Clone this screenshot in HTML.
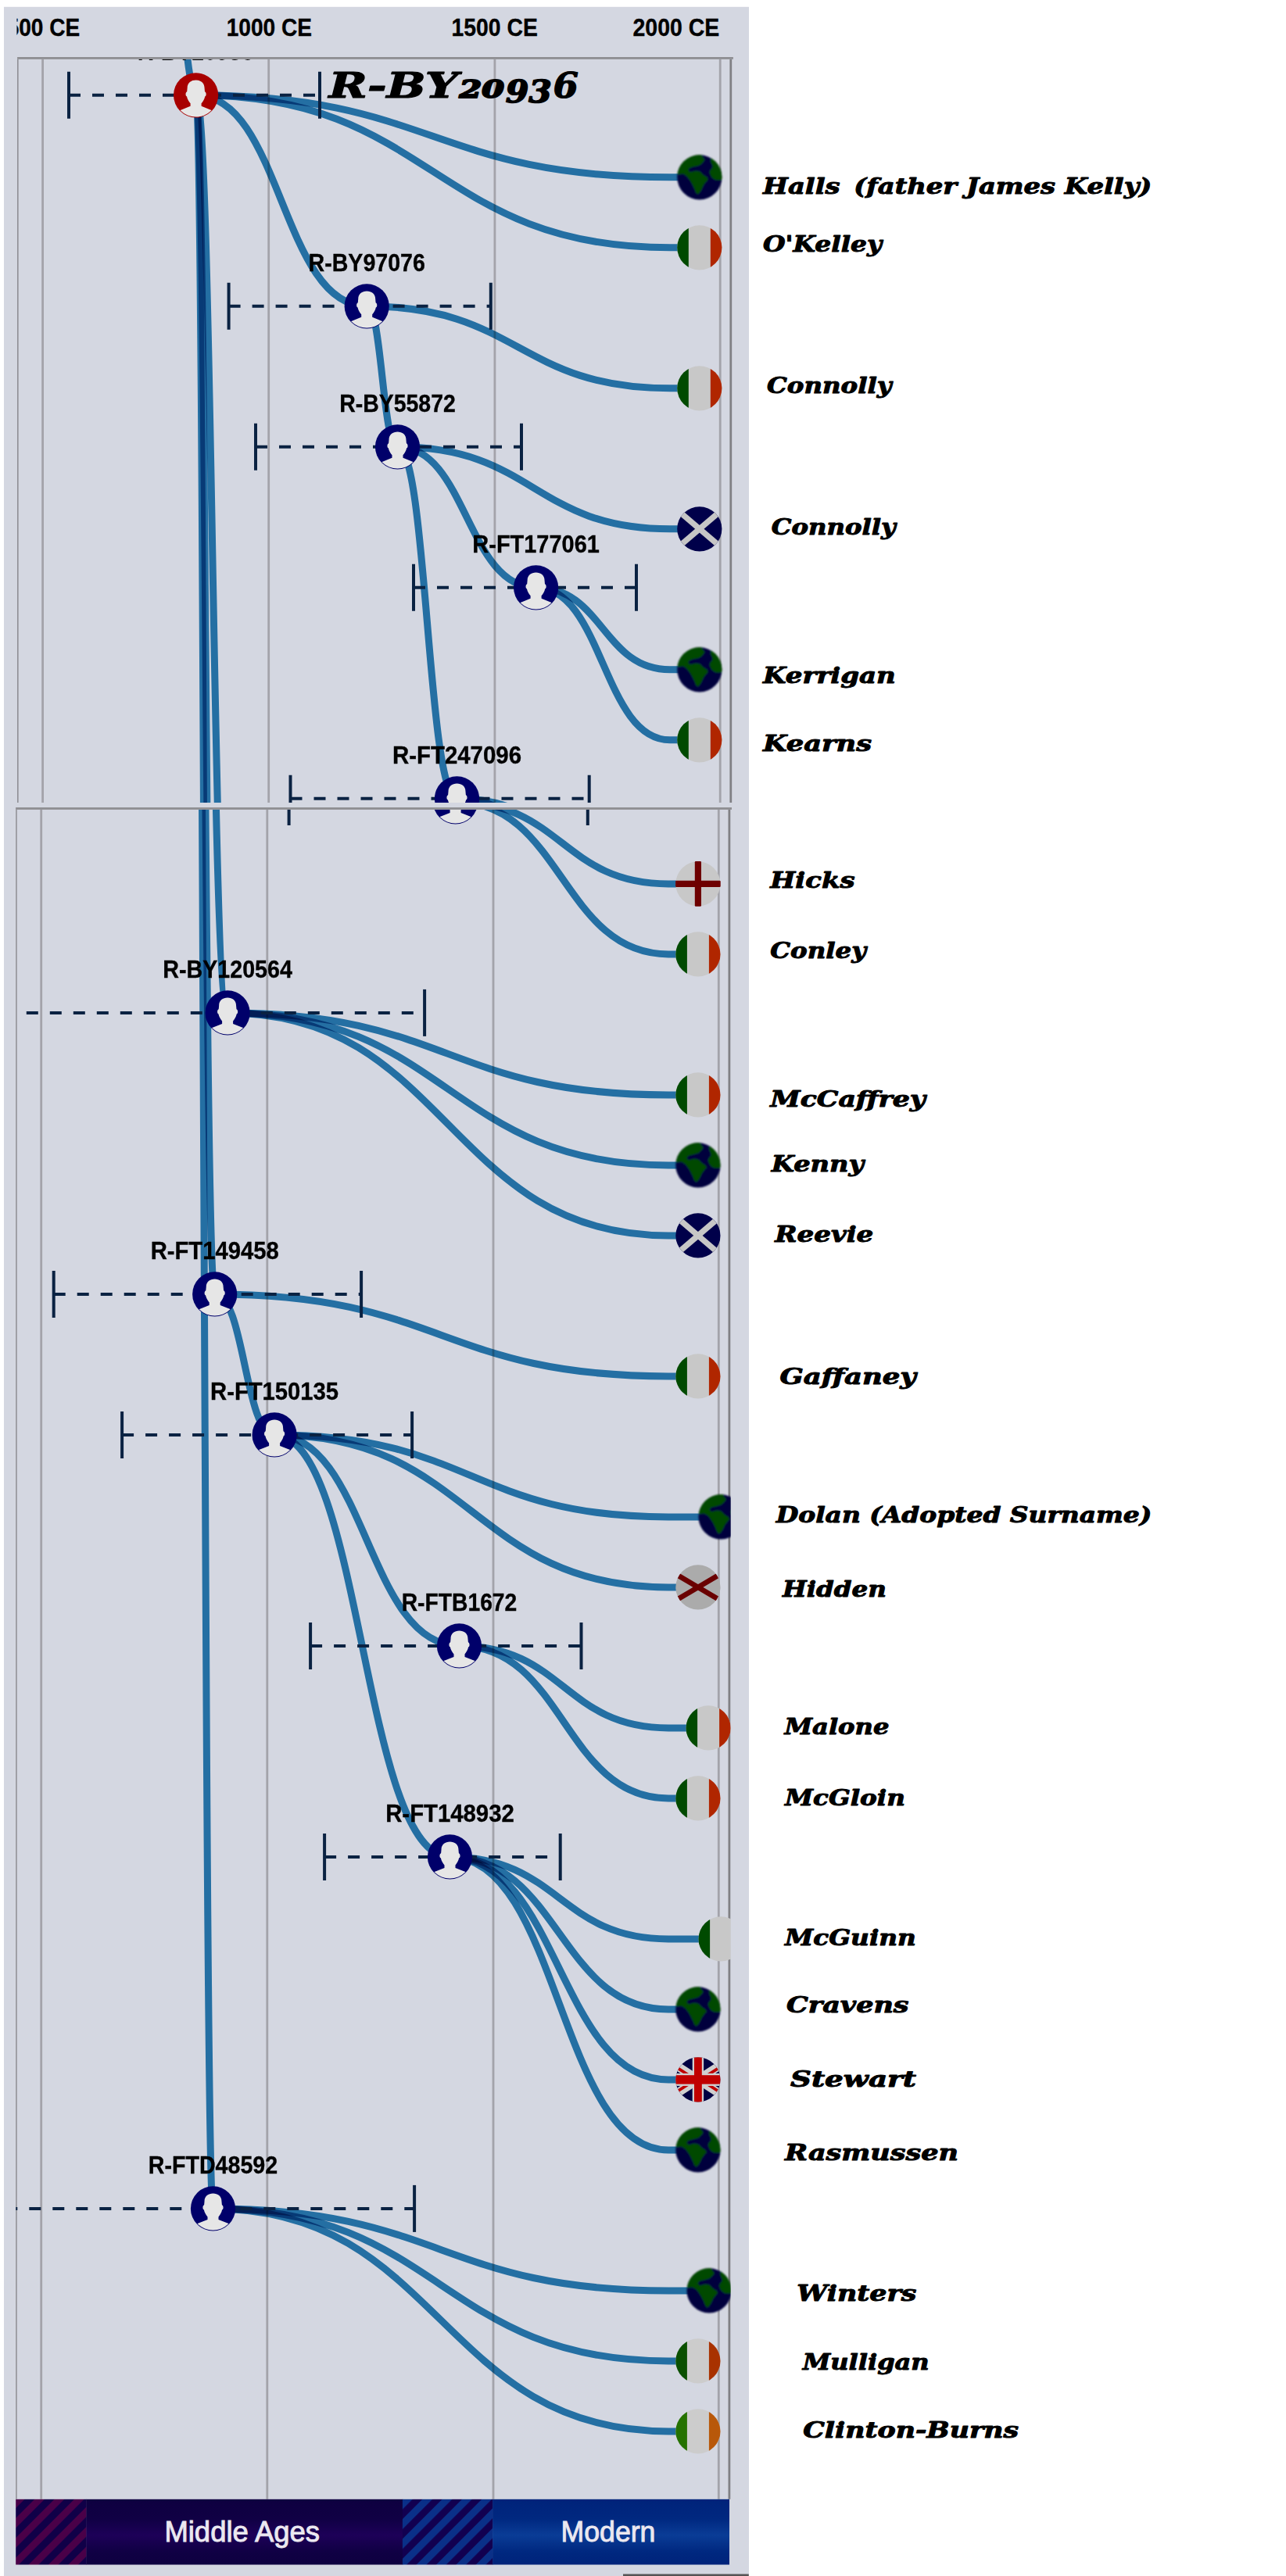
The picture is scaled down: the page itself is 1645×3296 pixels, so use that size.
<!DOCTYPE html>
<html lang="en"><head><meta charset="utf-8"><title>R-BY20936 Time Tree</title>
<style>
html,body{margin:0;padding:0;background:#fff}
body{width:1645px;height:3296px;overflow:hidden;position:relative}
svg{position:absolute;left:0;top:0;display:block}
.m{mix-blend-mode:multiply}
.cal{font-family:"DejaVu Serif","Liberation Serif",serif;font-weight:700;font-style:italic}
.ui{font-family:"Liberation Sans",sans-serif}
</style></head><body>
<svg width="1645" height="3296" viewBox="0 0 1645 3296">
<defs>
<clipPath id="cr"><circle r="28.6"/></clipPath>
<clipPath id="cin"><circle r="27.7"/></clipPath>
<clipPath id="ctop"><rect x="22.1" y="75.8" width="914.5" height="951.2"/></clipPath>
<clipPath id="cbot"><rect x="22.1" y="1031.8" width="914.5" height="2161.9"/></clipPath>
<clipPath id="chdr"><rect x="21.5" y="10" width="936" height="60"/></clipPath>
<filter id="bl" x="-10%" y="-10%" width="120%" height="120%"><feGaussianBlur stdDeviation="1"/></filter>
<linearGradient id="gma" x1="0" y1="0" x2="0" y2="1"><stop offset="0" stop-color="#0e0040"/><stop offset="0.3" stop-color="#100044"/><stop offset="0.55" stop-color="#1d0058"/><stop offset="0.8" stop-color="#100044"/><stop offset="1" stop-color="#0e0040"/></linearGradient>
<linearGradient id="gmo" x1="0" y1="0" x2="0" y2="1"><stop offset="0" stop-color="#00237a"/><stop offset="0.3" stop-color="#002880"/><stop offset="0.55" stop-color="#0a3c96"/><stop offset="0.8" stop-color="#002880"/><stop offset="1" stop-color="#00237a"/></linearGradient>
<pattern id="hp" patternUnits="userSpaceOnUse" width="17.93" height="8" patternTransform="translate(18.9,3197.8) rotate(45)"><rect width="17.93" height="8" fill="#100048"/><rect width="8.9" height="8" fill="#4a0048"/></pattern>
<pattern id="hb" patternUnits="userSpaceOnUse" width="17.93" height="8" patternTransform="translate(514.9,3197.8) rotate(45)"><rect width="17.93" height="8" fill="#120050"/><rect width="9.1" height="8" fill="#0a3088"/></pattern>
</defs>
<rect x="5" y="8.8" width="953" height="3287.2" fill="#d4d7e1"/>

<g class="ui" font-weight="700" font-size="31.5" fill="#000" stroke="#000" stroke-width="0.35" clip-path="url(#chdr)">
<text x="8.7" y="45.9" textLength="93.5" lengthAdjust="spacingAndGlyphs">500 CE</text>
<text x="289.7" y="45.9" textLength="109.3" lengthAdjust="spacingAndGlyphs">1000 CE</text>
<text x="577.5" y="45.9" textLength="110.3" lengthAdjust="spacingAndGlyphs">1500 CE</text>
<text x="809.5" y="45.9" textLength="110.8" lengthAdjust="spacingAndGlyphs">2000 CE</text>
</g>
<g clip-path="url(#ctop)">
<rect x="0" y="70.8" width="970" height="961.2" fill="#d4d7e1"/>
<rect x="53.2" y="70.8" width="2.8" height="961.2" fill="#a3a3aa"/>
<rect x="342.3" y="70.8" width="2.8" height="961.2" fill="#a3a3aa"/>
<rect x="631.5" y="70.8" width="2.8" height="961.2" fill="#a3a3aa"/>
<rect x="919.8" y="70.8" width="2.8" height="961.2" fill="#a3a3aa"/>
<rect x="22.1" y="70.8" width="1.4" height="961.2" fill="#808084"/>
<rect x="933.4" y="70.8" width="2.9" height="961.2" fill="#808084"/>
<g fill="none" stroke="#2b84b9" stroke-width="9">
<path class="m" d="M238.5,60C240,85 244,100 246,118"/>
<path class="m" d="M250.6,121.8C359.9,121.8 359.9,391.8 469.2,391.8"/>
<path class="m" d="M250.6,121.8C271.8,121.8 271.8,1291.8 293.0,1291.8"/>
<path class="m" d="M250.6,121.8C263.6,121.8 263.6,1651.8 276.6,1651.8"/>
<path class="m" d="M250.6,121.8C262.5,121.8 262.5,2821.8 274.4,2821.8"/>
<path class="m" d="M469.2,391.8C488.9,391.8 488.9,571.8 508.5,571.8"/>
<path class="m" d="M508.5,571.8C597.0,571.8 597.0,751.8 685.6,751.8"/>
<path class="m" d="M508.5,571.8C546.5,571.8 546.5,1021.8 584.5,1021.8"/>
<path class="m" d="M250.6,121.8C553.8,121.8 553.8,226.8 857.0,226.8H884.8"/>
<path class="m" d="M250.6,121.8C553.8,121.8 553.8,316.8 857.0,316.8H884.8"/>
<path class="m" d="M469.2,391.8C663.1,391.8 663.1,496.8 857.0,496.8H884.8"/>
<path class="m" d="M508.5,571.8C682.8,571.8 682.8,676.8 857.0,676.8H884.8"/>
<path class="m" d="M685.6,751.8C771.3,751.8 771.3,856.8 857.0,856.8H884.8"/>
<path class="m" d="M685.6,751.8C771.3,751.8 771.3,946.8 857.0,946.8H884.8"/>
<path class="m" d="M584.5,1021.8C720.8,1021.8 720.8,1126.8 857.0,1126.8H884.8"/>
<path class="m" d="M584.5,1021.8C720.8,1021.8 720.8,1216.8 857.0,1216.8H884.8"/>
</g>
<g stroke="#0a2242" stroke-width="4" fill="none">
<path d="M88,91.8V151.8M409,91.8V151.8"/>
<path d="M88,121.8H409" stroke-dasharray="15 15"/>
<path d="M292.6,361.8V421.8M627.8,361.8V421.8"/>
<path d="M292.6,391.8H627.8" stroke-dasharray="15 15"/>
<path d="M327,541.8V601.8M667,541.8V601.8"/>
<path d="M327,571.8H667" stroke-dasharray="15 15"/>
<path d="M529,721.8V781.8M814,721.8V781.8"/>
<path d="M529,751.8H814" stroke-dasharray="15 15"/>
<path d="M371.5,991.8V1051.8M753.7,991.8V1051.8"/>
<path d="M371.5,1021.8H753.7" stroke-dasharray="15 15"/>
</g>
<g transform="translate(250.6,121.8)"><circle r="28.6" fill="#a80000"/><path d="M-21,19.6L-7,14L-7,10.5C-9,8 -11,5 -11.6,1.6C-13.6,1 -13.6,-4 -11.4,-4.6L-11,-9C-11,-16 -6,-19.3 0,-19.3C6,-19.3 11,-16 11,-9L11.4,-4.6C13.6,-4 13.6,1 11.6,1.6C11,5 9,8 7,10.5L7,14L21,19.6L21,30L-21,30Z" fill="#e6e6e6" clip-path="url(#cin)"/></g>
<g transform="translate(469.2,391.8)"><circle r="28.6" fill="#00006a"/><path d="M-21,19.6L-7,14L-7,10.5C-9,8 -11,5 -11.6,1.6C-13.6,1 -13.6,-4 -11.4,-4.6L-11,-9C-11,-16 -6,-19.3 0,-19.3C6,-19.3 11,-16 11,-9L11.4,-4.6C13.6,-4 13.6,1 11.6,1.6C11,5 9,8 7,10.5L7,14L21,19.6L21,30L-21,30Z" fill="#e6e6e6" clip-path="url(#cin)"/></g>
<g transform="translate(508.5,571.8)"><circle r="28.6" fill="#00006a"/><path d="M-21,19.6L-7,14L-7,10.5C-9,8 -11,5 -11.6,1.6C-13.6,1 -13.6,-4 -11.4,-4.6L-11,-9C-11,-16 -6,-19.3 0,-19.3C6,-19.3 11,-16 11,-9L11.4,-4.6C13.6,-4 13.6,1 11.6,1.6C11,5 9,8 7,10.5L7,14L21,19.6L21,30L-21,30Z" fill="#e6e6e6" clip-path="url(#cin)"/></g>
<g transform="translate(685.6,751.8)"><circle r="28.6" fill="#00006a"/><path d="M-21,19.6L-7,14L-7,10.5C-9,8 -11,5 -11.6,1.6C-13.6,1 -13.6,-4 -11.4,-4.6L-11,-9C-11,-16 -6,-19.3 0,-19.3C6,-19.3 11,-16 11,-9L11.4,-4.6C13.6,-4 13.6,1 11.6,1.6C11,5 9,8 7,10.5L7,14L21,19.6L21,30L-21,30Z" fill="#e6e6e6" clip-path="url(#cin)"/></g>
<g transform="translate(584.5,1021.8)"><circle r="28.6" fill="#00006a"/><path d="M-21,19.6L-7,14L-7,10.5C-9,8 -11,5 -11.6,1.6C-13.6,1 -13.6,-4 -11.4,-4.6L-11,-9C-11,-16 -6,-19.3 0,-19.3C6,-19.3 11,-16 11,-9L11.4,-4.6C13.6,-4 13.6,1 11.6,1.6C11,5 9,8 7,10.5L7,14L21,19.6L21,30L-21,30Z" fill="#e6e6e6" clip-path="url(#cin)"/></g>
<g transform="translate(894.8,226.8)"><g filter="url(#bl)"><g clip-path="url(#cr)"><rect x="-30" y="-30" width="60" height="60" fill="#00003e"/><path d="M-29.6,-4.9C-31.4,-7.2 -33.6,-13.8 -32.4,-18.4C-31.1,-23.0 -27.7,-30.0 -22.1,-32.4C-16.5,-34.7 -3.1,-33.4 1.2,-32.4C5.5,-31.4 2.7,-27.9 3.5,-26.3C4.4,-24.7 6.3,-23.8 6.3,-22.6C6.4,-21.3 5.0,-20.0 4.0,-18.8C3.0,-17.7 1.8,-16.4 0.3,-15.6C-1.3,-14.8 -3.4,-14.5 -5.3,-14.0C-7.3,-13.5 -9.9,-13.0 -11.4,-12.3C-12.8,-11.6 -13.8,-10.8 -14.1,-10.0C-14.4,-9.2 -13.9,-7.9 -13.2,-7.4C-12.6,-6.8 -11.3,-6.7 -10.0,-6.8C-8.7,-6.9 -7.0,-8.1 -5.3,-8.1C-3.6,-8.2 -1.4,-8.0 0.3,-7.2C2.0,-6.3 3.4,-4.2 4.9,-3.0C6.5,-1.7 8.7,-0.7 9.6,0.3C10.5,1.3 10.9,2.0 10.5,3.1C10.2,4.2 8.5,5.6 7.6,6.8C6.6,8.1 5.7,9.2 4.9,10.5C4.2,11.9 3.8,13.3 3.1,14.7C2.3,16.1 1.4,17.8 0.5,18.9C-0.4,20.0 -1.5,21.4 -2.3,21.4C-3.2,21.4 -4.0,20.3 -4.8,18.9C-5.6,17.6 -6.3,15.2 -7.2,13.3C-8.1,11.5 -9.1,9.5 -10.0,7.7C-10.9,6.0 -11.7,4.6 -12.8,3.1C-13.9,1.6 -15.1,-0.2 -16.5,-1.4C-17.9,-2.6 -19.0,-3.6 -21.2,-4.2C-23.4,-4.8 -27.7,-2.5 -29.6,-4.9ZM14.5,-24.0C14.9,-25.3 14.6,-28.0 17.1,-27.7C19.5,-27.4 26.7,-25.5 29.2,-22.1C31.7,-18.7 31.9,-11.2 32.0,-7.2C32.1,-3.1 30.9,0.3 29.7,2.1C28.4,4.0 26.2,3.5 24.5,3.6C22.9,3.8 21.3,3.6 19.9,3.1C18.5,2.6 17.2,1.6 16.1,0.5C15.1,-0.6 14.3,-2.2 13.8,-3.5C13.3,-4.7 12.8,-6.1 13.0,-7.2C13.1,-8.3 14.1,-9.0 14.7,-10.0C15.3,-10.9 16.4,-11.9 16.6,-13.0C16.8,-14.1 16.1,-15.4 15.8,-16.5C15.4,-17.7 14.6,-18.5 14.4,-19.8C14.2,-21.0 14.0,-22.7 14.5,-24.0Z" fill="#004a00"/></g></g></g>
<g transform="translate(894.8,316.8)"><g clip-path="url(#cr)"><rect x="-30" y="-30" width="60" height="60" fill="#c8c8c8"/><rect x="-30" y="-30" width="16" height="60" fill="#004a00"/><rect x="14" y="-30" width="16" height="60" fill="#b02600"/></g></g>
<g transform="translate(894.8,496.8)"><g clip-path="url(#cr)"><rect x="-30" y="-30" width="60" height="60" fill="#c8c8c8"/><rect x="-30" y="-30" width="16" height="60" fill="#004a00"/><rect x="14" y="-30" width="16" height="60" fill="#b02600"/></g></g>
<g transform="translate(894.8,676.8)"><g clip-path="url(#cr)"><rect x="-30" y="-30" width="60" height="60" fill="#00004a"/><g stroke="#c6c6c6" stroke-width="7.4"><line x1="-40" y1="0" x2="40" y2="0" transform="rotate(40.5)"/><line x1="-40" y1="0" x2="40" y2="0" transform="rotate(-40.5)"/></g></g></g>
<g transform="translate(894.8,856.8)"><g filter="url(#bl)"><g clip-path="url(#cr)"><rect x="-30" y="-30" width="60" height="60" fill="#00003e"/><path d="M-29.6,-4.9C-31.4,-7.2 -33.6,-13.8 -32.4,-18.4C-31.1,-23.0 -27.7,-30.0 -22.1,-32.4C-16.5,-34.7 -3.1,-33.4 1.2,-32.4C5.5,-31.4 2.7,-27.9 3.5,-26.3C4.4,-24.7 6.3,-23.8 6.3,-22.6C6.4,-21.3 5.0,-20.0 4.0,-18.8C3.0,-17.7 1.8,-16.4 0.3,-15.6C-1.3,-14.8 -3.4,-14.5 -5.3,-14.0C-7.3,-13.5 -9.9,-13.0 -11.4,-12.3C-12.8,-11.6 -13.8,-10.8 -14.1,-10.0C-14.4,-9.2 -13.9,-7.9 -13.2,-7.4C-12.6,-6.8 -11.3,-6.7 -10.0,-6.8C-8.7,-6.9 -7.0,-8.1 -5.3,-8.1C-3.6,-8.2 -1.4,-8.0 0.3,-7.2C2.0,-6.3 3.4,-4.2 4.9,-3.0C6.5,-1.7 8.7,-0.7 9.6,0.3C10.5,1.3 10.9,2.0 10.5,3.1C10.2,4.2 8.5,5.6 7.6,6.8C6.6,8.1 5.7,9.2 4.9,10.5C4.2,11.9 3.8,13.3 3.1,14.7C2.3,16.1 1.4,17.8 0.5,18.9C-0.4,20.0 -1.5,21.4 -2.3,21.4C-3.2,21.4 -4.0,20.3 -4.8,18.9C-5.6,17.6 -6.3,15.2 -7.2,13.3C-8.1,11.5 -9.1,9.5 -10.0,7.7C-10.9,6.0 -11.7,4.6 -12.8,3.1C-13.9,1.6 -15.1,-0.2 -16.5,-1.4C-17.9,-2.6 -19.0,-3.6 -21.2,-4.2C-23.4,-4.8 -27.7,-2.5 -29.6,-4.9ZM14.5,-24.0C14.9,-25.3 14.6,-28.0 17.1,-27.7C19.5,-27.4 26.7,-25.5 29.2,-22.1C31.7,-18.7 31.9,-11.2 32.0,-7.2C32.1,-3.1 30.9,0.3 29.7,2.1C28.4,4.0 26.2,3.5 24.5,3.6C22.9,3.8 21.3,3.6 19.9,3.1C18.5,2.6 17.2,1.6 16.1,0.5C15.1,-0.6 14.3,-2.2 13.8,-3.5C13.3,-4.7 12.8,-6.1 13.0,-7.2C13.1,-8.3 14.1,-9.0 14.7,-10.0C15.3,-10.9 16.4,-11.9 16.6,-13.0C16.8,-14.1 16.1,-15.4 15.8,-16.5C15.4,-17.7 14.6,-18.5 14.4,-19.8C14.2,-21.0 14.0,-22.7 14.5,-24.0Z" fill="#004a00"/></g></g></g>
<g transform="translate(894.8,946.8)"><g clip-path="url(#cr)"><rect x="-30" y="-30" width="60" height="60" fill="#c8c8c8"/><rect x="-30" y="-30" width="16" height="60" fill="#004a00"/><rect x="14" y="-30" width="16" height="60" fill="#b02600"/></g></g>
<g font-family="'Liberation Sans',sans-serif" font-weight="700" font-size="31" text-anchor="middle" fill="#000" stroke="#000" stroke-width="0.35">
<text x="469.2" y="346.5" textLength="149.3" lengthAdjust="spacingAndGlyphs">R-BY97076</text>
<text x="508.5" y="526.5" textLength="148.5" lengthAdjust="spacingAndGlyphs">R-BY55872</text>
<text x="685.6" y="706.5" textLength="162.5" lengthAdjust="spacingAndGlyphs">R-FT177061</text>
<text x="584.5" y="976.5" textLength="165" lengthAdjust="spacingAndGlyphs">R-FT247096</text>
</g>
<text class="ui" x="250" y="76.7" font-weight="700" font-size="31" text-anchor="middle" textLength="148.5" lengthAdjust="spacingAndGlyphs">R-BY20936</text>
</g>
<g transform="translate(-1.9,4.1)"><g clip-path="url(#cbot)">
<rect x="0" y="1026.8" width="970" height="2171.9" fill="#d4d7e1"/>
<rect x="53.2" y="1026.8" width="2.8" height="2171.9" fill="#a3a3aa"/>
<rect x="342.3" y="1026.8" width="2.8" height="2171.9" fill="#a3a3aa"/>
<rect x="631.5" y="1026.8" width="2.8" height="2171.9" fill="#a3a3aa"/>
<rect x="919.8" y="1026.8" width="2.8" height="2171.9" fill="#a3a3aa"/>
<rect x="22.1" y="1026.8" width="1.4" height="2171.9" fill="#808084"/>
<rect x="933.4" y="1026.8" width="2.9" height="2171.9" fill="#808084"/>
<g fill="none" stroke="#2b84b9" stroke-width="9">
<path class="m" d="M250.6,121.8C271.8,121.8 271.8,1291.8 293.0,1291.8"/>
<path class="m" d="M250.6,121.8C263.6,121.8 263.6,1651.8 276.6,1651.8"/>
<path class="m" d="M250.6,121.8C262.5,121.8 262.5,2821.8 274.4,2821.8"/>
<path class="m" d="M276.6,1651.8C314.8,1651.8 314.8,1831.8 353.0,1831.8"/>
<path class="m" d="M353.0,1831.8C471.2,1831.8 471.2,2101.8 589.4,2101.8"/>
<path class="m" d="M353.0,1831.8C465.2,1831.8 465.2,2371.8 577.4,2371.8"/>
<path class="m" d="M584.5,1021.8C720.8,1021.8 720.8,1126.8 857.0,1126.8H884.8"/>
<path class="m" d="M584.5,1021.8C720.8,1021.8 720.8,1216.8 857.0,1216.8H884.8"/>
<path class="m" d="M293.0,1291.8C575.0,1291.8 575.0,1396.8 857.0,1396.8H884.8"/>
<path class="m" d="M293.0,1291.8C575.0,1291.8 575.0,1486.8 857.0,1486.8H884.8"/>
<path class="m" d="M293.0,1291.8C575.0,1291.8 575.0,1576.8 857.0,1576.8H884.8"/>
<path class="m" d="M276.6,1651.8C566.8,1651.8 566.8,1756.8 857.0,1756.8H884.8"/>
<path class="m" d="M353.0,1831.8C605.0,1831.8 605.0,1936.8 857.0,1936.8H914"/>
<path class="m" d="M353.0,1831.8C605.0,1831.8 605.0,2026.8 857.0,2026.8H884.8"/>
<path class="m" d="M589.4,2101.8C723.2,2101.8 723.2,2206.8 857.0,2206.8H898"/>
<path class="m" d="M589.4,2101.8C723.2,2101.8 723.2,2296.8 857.0,2296.8H884.8"/>
<path class="m" d="M577.4,2371.8C717.2,2371.8 717.2,2476.8 857.0,2476.8H914"/>
<path class="m" d="M577.4,2371.8C717.2,2371.8 717.2,2566.8 857.0,2566.8H884.8"/>
<path class="m" d="M577.4,2371.8C717.2,2371.8 717.2,2656.8 857.0,2656.8H884.8"/>
<path class="m" d="M577.4,2371.8C717.2,2371.8 717.2,2746.8 857.0,2746.8H884.8"/>
<path class="m" d="M274.4,2821.8C565.7,2821.8 565.7,2926.8 857.0,2926.8H899"/>
<path class="m" d="M274.4,2821.8C565.7,2821.8 565.7,3016.8 857.0,3016.8H884.8"/>
<path class="m" d="M274.4,2821.8C565.7,2821.8 565.7,3106.8 857.0,3106.8H884.8"/>
</g>
<g stroke="#0a2242" stroke-width="4" fill="none">
<path d="M371.5,991.8V1051.8M753.7,991.8V1051.8"/>
<path d="M371.5,1021.8H753.7" stroke-dasharray="15 15"/>
<path d="M545,1261.8V1321.8"/>
<path d="M35.7,1291.8H545" stroke-dasharray="15 15"/>
<path d="M70.6,1621.8V1681.8M464,1621.8V1681.8"/>
<path d="M70.6,1651.8H464" stroke-dasharray="15 15"/>
<path d="M158,1801.8V1861.8M529,1801.8V1861.8"/>
<path d="M158,1831.8H529" stroke-dasharray="15 15"/>
<path d="M399,2071.8V2131.8M745.4,2071.8V2131.8"/>
<path d="M399,2101.8H745.4" stroke-dasharray="15 15"/>
<path d="M417,2341.8V2401.8M718.6,2341.8V2401.8"/>
<path d="M417,2371.8H718.6" stroke-dasharray="15 15"/>
<path d="M532,2791.8V2851.8"/>
<path d="M9.2,2821.8H532" stroke-dasharray="15 15"/>
</g>
<g transform="translate(584.5,1021.8)"><circle r="28.6" fill="#00006a"/><path d="M-21,19.6L-7,14L-7,10.5C-9,8 -11,5 -11.6,1.6C-13.6,1 -13.6,-4 -11.4,-4.6L-11,-9C-11,-16 -6,-19.3 0,-19.3C6,-19.3 11,-16 11,-9L11.4,-4.6C13.6,-4 13.6,1 11.6,1.6C11,5 9,8 7,10.5L7,14L21,19.6L21,30L-21,30Z" fill="#e6e6e6" clip-path="url(#cin)"/></g>
<g transform="translate(293,1291.8)"><circle r="28.6" fill="#00006a"/><path d="M-21,19.6L-7,14L-7,10.5C-9,8 -11,5 -11.6,1.6C-13.6,1 -13.6,-4 -11.4,-4.6L-11,-9C-11,-16 -6,-19.3 0,-19.3C6,-19.3 11,-16 11,-9L11.4,-4.6C13.6,-4 13.6,1 11.6,1.6C11,5 9,8 7,10.5L7,14L21,19.6L21,30L-21,30Z" fill="#e6e6e6" clip-path="url(#cin)"/></g>
<g transform="translate(276.6,1651.8)"><circle r="28.6" fill="#00006a"/><path d="M-21,19.6L-7,14L-7,10.5C-9,8 -11,5 -11.6,1.6C-13.6,1 -13.6,-4 -11.4,-4.6L-11,-9C-11,-16 -6,-19.3 0,-19.3C6,-19.3 11,-16 11,-9L11.4,-4.6C13.6,-4 13.6,1 11.6,1.6C11,5 9,8 7,10.5L7,14L21,19.6L21,30L-21,30Z" fill="#e6e6e6" clip-path="url(#cin)"/></g>
<g transform="translate(353,1831.8)"><circle r="28.6" fill="#00006a"/><path d="M-21,19.6L-7,14L-7,10.5C-9,8 -11,5 -11.6,1.6C-13.6,1 -13.6,-4 -11.4,-4.6L-11,-9C-11,-16 -6,-19.3 0,-19.3C6,-19.3 11,-16 11,-9L11.4,-4.6C13.6,-4 13.6,1 11.6,1.6C11,5 9,8 7,10.5L7,14L21,19.6L21,30L-21,30Z" fill="#e6e6e6" clip-path="url(#cin)"/></g>
<g transform="translate(589.4,2101.8)"><circle r="28.6" fill="#00006a"/><path d="M-21,19.6L-7,14L-7,10.5C-9,8 -11,5 -11.6,1.6C-13.6,1 -13.6,-4 -11.4,-4.6L-11,-9C-11,-16 -6,-19.3 0,-19.3C6,-19.3 11,-16 11,-9L11.4,-4.6C13.6,-4 13.6,1 11.6,1.6C11,5 9,8 7,10.5L7,14L21,19.6L21,30L-21,30Z" fill="#e6e6e6" clip-path="url(#cin)"/></g>
<g transform="translate(577.4,2371.8)"><circle r="28.6" fill="#00006a"/><path d="M-21,19.6L-7,14L-7,10.5C-9,8 -11,5 -11.6,1.6C-13.6,1 -13.6,-4 -11.4,-4.6L-11,-9C-11,-16 -6,-19.3 0,-19.3C6,-19.3 11,-16 11,-9L11.4,-4.6C13.6,-4 13.6,1 11.6,1.6C11,5 9,8 7,10.5L7,14L21,19.6L21,30L-21,30Z" fill="#e6e6e6" clip-path="url(#cin)"/></g>
<g transform="translate(274.4,2821.8)"><circle r="28.6" fill="#00006a"/><path d="M-21,19.6L-7,14L-7,10.5C-9,8 -11,5 -11.6,1.6C-13.6,1 -13.6,-4 -11.4,-4.6L-11,-9C-11,-16 -6,-19.3 0,-19.3C6,-19.3 11,-16 11,-9L11.4,-4.6C13.6,-4 13.6,1 11.6,1.6C11,5 9,8 7,10.5L7,14L21,19.6L21,30L-21,30Z" fill="#e6e6e6" clip-path="url(#cin)"/></g>
<g transform="translate(894.8,1126.8)"><circle r="28.6" fill="#c8c8c8"/><rect x="-28.8" y="-4.1" width="57.6" height="8.2" rx="1.2" fill="#6e0000"/><rect x="-4.1" y="-28.8" width="8.2" height="57.6" rx="1.2" fill="#6e0000"/></g>
<g transform="translate(894.8,1216.8)"><g clip-path="url(#cr)"><rect x="-30" y="-30" width="60" height="60" fill="#c8c8c8"/><rect x="-30" y="-30" width="16" height="60" fill="#004a00"/><rect x="14" y="-30" width="16" height="60" fill="#b02600"/></g></g>
<g transform="translate(894.8,1396.8)"><g clip-path="url(#cr)"><rect x="-30" y="-30" width="60" height="60" fill="#c8c8c8"/><rect x="-30" y="-30" width="16" height="60" fill="#004a00"/><rect x="14" y="-30" width="16" height="60" fill="#b02600"/></g></g>
<g transform="translate(894.8,1486.8)"><g filter="url(#bl)"><g clip-path="url(#cr)"><rect x="-30" y="-30" width="60" height="60" fill="#00003e"/><path d="M-29.6,-4.9C-31.4,-7.2 -33.6,-13.8 -32.4,-18.4C-31.1,-23.0 -27.7,-30.0 -22.1,-32.4C-16.5,-34.7 -3.1,-33.4 1.2,-32.4C5.5,-31.4 2.7,-27.9 3.5,-26.3C4.4,-24.7 6.3,-23.8 6.3,-22.6C6.4,-21.3 5.0,-20.0 4.0,-18.8C3.0,-17.7 1.8,-16.4 0.3,-15.6C-1.3,-14.8 -3.4,-14.5 -5.3,-14.0C-7.3,-13.5 -9.9,-13.0 -11.4,-12.3C-12.8,-11.6 -13.8,-10.8 -14.1,-10.0C-14.4,-9.2 -13.9,-7.9 -13.2,-7.4C-12.6,-6.8 -11.3,-6.7 -10.0,-6.8C-8.7,-6.9 -7.0,-8.1 -5.3,-8.1C-3.6,-8.2 -1.4,-8.0 0.3,-7.2C2.0,-6.3 3.4,-4.2 4.9,-3.0C6.5,-1.7 8.7,-0.7 9.6,0.3C10.5,1.3 10.9,2.0 10.5,3.1C10.2,4.2 8.5,5.6 7.6,6.8C6.6,8.1 5.7,9.2 4.9,10.5C4.2,11.9 3.8,13.3 3.1,14.7C2.3,16.1 1.4,17.8 0.5,18.9C-0.4,20.0 -1.5,21.4 -2.3,21.4C-3.2,21.4 -4.0,20.3 -4.8,18.9C-5.6,17.6 -6.3,15.2 -7.2,13.3C-8.1,11.5 -9.1,9.5 -10.0,7.7C-10.9,6.0 -11.7,4.6 -12.8,3.1C-13.9,1.6 -15.1,-0.2 -16.5,-1.4C-17.9,-2.6 -19.0,-3.6 -21.2,-4.2C-23.4,-4.8 -27.7,-2.5 -29.6,-4.9ZM14.5,-24.0C14.9,-25.3 14.6,-28.0 17.1,-27.7C19.5,-27.4 26.7,-25.5 29.2,-22.1C31.7,-18.7 31.9,-11.2 32.0,-7.2C32.1,-3.1 30.9,0.3 29.7,2.1C28.4,4.0 26.2,3.5 24.5,3.6C22.9,3.8 21.3,3.6 19.9,3.1C18.5,2.6 17.2,1.6 16.1,0.5C15.1,-0.6 14.3,-2.2 13.8,-3.5C13.3,-4.7 12.8,-6.1 13.0,-7.2C13.1,-8.3 14.1,-9.0 14.7,-10.0C15.3,-10.9 16.4,-11.9 16.6,-13.0C16.8,-14.1 16.1,-15.4 15.8,-16.5C15.4,-17.7 14.6,-18.5 14.4,-19.8C14.2,-21.0 14.0,-22.7 14.5,-24.0Z" fill="#004a00"/></g></g></g>
<g transform="translate(894.8,1576.8)"><g clip-path="url(#cr)"><rect x="-30" y="-30" width="60" height="60" fill="#00004a"/><g stroke="#c6c6c6" stroke-width="7.4"><line x1="-40" y1="0" x2="40" y2="0" transform="rotate(40.5)"/><line x1="-40" y1="0" x2="40" y2="0" transform="rotate(-40.5)"/></g></g></g>
<g transform="translate(894.8,1756.8)"><g clip-path="url(#cr)"><rect x="-30" y="-30" width="60" height="60" fill="#c8c8c8"/><rect x="-30" y="-30" width="16" height="60" fill="#004a00"/><rect x="14" y="-30" width="16" height="60" fill="#b02600"/></g></g>
<g transform="translate(924,1936.8)"><g filter="url(#bl)"><g clip-path="url(#cr)"><rect x="-30" y="-30" width="60" height="60" fill="#00003e"/><path d="M-29.6,-4.9C-31.4,-7.2 -33.6,-13.8 -32.4,-18.4C-31.1,-23.0 -27.7,-30.0 -22.1,-32.4C-16.5,-34.7 -3.1,-33.4 1.2,-32.4C5.5,-31.4 2.7,-27.9 3.5,-26.3C4.4,-24.7 6.3,-23.8 6.3,-22.6C6.4,-21.3 5.0,-20.0 4.0,-18.8C3.0,-17.7 1.8,-16.4 0.3,-15.6C-1.3,-14.8 -3.4,-14.5 -5.3,-14.0C-7.3,-13.5 -9.9,-13.0 -11.4,-12.3C-12.8,-11.6 -13.8,-10.8 -14.1,-10.0C-14.4,-9.2 -13.9,-7.9 -13.2,-7.4C-12.6,-6.8 -11.3,-6.7 -10.0,-6.8C-8.7,-6.9 -7.0,-8.1 -5.3,-8.1C-3.6,-8.2 -1.4,-8.0 0.3,-7.2C2.0,-6.3 3.4,-4.2 4.9,-3.0C6.5,-1.7 8.7,-0.7 9.6,0.3C10.5,1.3 10.9,2.0 10.5,3.1C10.2,4.2 8.5,5.6 7.6,6.8C6.6,8.1 5.7,9.2 4.9,10.5C4.2,11.9 3.8,13.3 3.1,14.7C2.3,16.1 1.4,17.8 0.5,18.9C-0.4,20.0 -1.5,21.4 -2.3,21.4C-3.2,21.4 -4.0,20.3 -4.8,18.9C-5.6,17.6 -6.3,15.2 -7.2,13.3C-8.1,11.5 -9.1,9.5 -10.0,7.7C-10.9,6.0 -11.7,4.6 -12.8,3.1C-13.9,1.6 -15.1,-0.2 -16.5,-1.4C-17.9,-2.6 -19.0,-3.6 -21.2,-4.2C-23.4,-4.8 -27.7,-2.5 -29.6,-4.9ZM14.5,-24.0C14.9,-25.3 14.6,-28.0 17.1,-27.7C19.5,-27.4 26.7,-25.5 29.2,-22.1C31.7,-18.7 31.9,-11.2 32.0,-7.2C32.1,-3.1 30.9,0.3 29.7,2.1C28.4,4.0 26.2,3.5 24.5,3.6C22.9,3.8 21.3,3.6 19.9,3.1C18.5,2.6 17.2,1.6 16.1,0.5C15.1,-0.6 14.3,-2.2 13.8,-3.5C13.3,-4.7 12.8,-6.1 13.0,-7.2C13.1,-8.3 14.1,-9.0 14.7,-10.0C15.3,-10.9 16.4,-11.9 16.6,-13.0C16.8,-14.1 16.1,-15.4 15.8,-16.5C15.4,-17.7 14.6,-18.5 14.4,-19.8C14.2,-21.0 14.0,-22.7 14.5,-24.0Z" fill="#004a00"/></g></g></g>
<g transform="translate(894.8,2026.8)"><circle r="28.6" fill="#ababab"/><g clip-path="url(#cr)" stroke="#6a0000" stroke-width="6.6"><line x1="-29" y1="0" x2="29" y2="0" transform="rotate(30.5)"/><line x1="-29" y1="0" x2="29" y2="0" transform="rotate(-30.5)"/></g></g>
<g transform="translate(908,2206.8)"><g clip-path="url(#cr)"><rect x="-30" y="-30" width="60" height="60" fill="#c8c8c8"/><rect x="-30" y="-30" width="16" height="60" fill="#004a00"/><rect x="14" y="-30" width="16" height="60" fill="#b02600"/></g></g>
<g transform="translate(894.8,2296.8)"><g clip-path="url(#cr)"><rect x="-30" y="-30" width="60" height="60" fill="#c8c8c8"/><rect x="-30" y="-30" width="16" height="60" fill="#004a00"/><rect x="14" y="-30" width="16" height="60" fill="#b02600"/></g></g>
<g transform="translate(924,2476.8)"><g clip-path="url(#cr)"><rect x="-30" y="-30" width="60" height="60" fill="#c8c8c8"/><rect x="-30" y="-30" width="16" height="60" fill="#004a00"/><rect x="14" y="-30" width="16" height="60" fill="#b02600"/></g></g>
<g transform="translate(894.8,2566.8)"><g filter="url(#bl)"><g clip-path="url(#cr)"><rect x="-30" y="-30" width="60" height="60" fill="#00003e"/><path d="M-29.6,-4.9C-31.4,-7.2 -33.6,-13.8 -32.4,-18.4C-31.1,-23.0 -27.7,-30.0 -22.1,-32.4C-16.5,-34.7 -3.1,-33.4 1.2,-32.4C5.5,-31.4 2.7,-27.9 3.5,-26.3C4.4,-24.7 6.3,-23.8 6.3,-22.6C6.4,-21.3 5.0,-20.0 4.0,-18.8C3.0,-17.7 1.8,-16.4 0.3,-15.6C-1.3,-14.8 -3.4,-14.5 -5.3,-14.0C-7.3,-13.5 -9.9,-13.0 -11.4,-12.3C-12.8,-11.6 -13.8,-10.8 -14.1,-10.0C-14.4,-9.2 -13.9,-7.9 -13.2,-7.4C-12.6,-6.8 -11.3,-6.7 -10.0,-6.8C-8.7,-6.9 -7.0,-8.1 -5.3,-8.1C-3.6,-8.2 -1.4,-8.0 0.3,-7.2C2.0,-6.3 3.4,-4.2 4.9,-3.0C6.5,-1.7 8.7,-0.7 9.6,0.3C10.5,1.3 10.9,2.0 10.5,3.1C10.2,4.2 8.5,5.6 7.6,6.8C6.6,8.1 5.7,9.2 4.9,10.5C4.2,11.9 3.8,13.3 3.1,14.7C2.3,16.1 1.4,17.8 0.5,18.9C-0.4,20.0 -1.5,21.4 -2.3,21.4C-3.2,21.4 -4.0,20.3 -4.8,18.9C-5.6,17.6 -6.3,15.2 -7.2,13.3C-8.1,11.5 -9.1,9.5 -10.0,7.7C-10.9,6.0 -11.7,4.6 -12.8,3.1C-13.9,1.6 -15.1,-0.2 -16.5,-1.4C-17.9,-2.6 -19.0,-3.6 -21.2,-4.2C-23.4,-4.8 -27.7,-2.5 -29.6,-4.9ZM14.5,-24.0C14.9,-25.3 14.6,-28.0 17.1,-27.7C19.5,-27.4 26.7,-25.5 29.2,-22.1C31.7,-18.7 31.9,-11.2 32.0,-7.2C32.1,-3.1 30.9,0.3 29.7,2.1C28.4,4.0 26.2,3.5 24.5,3.6C22.9,3.8 21.3,3.6 19.9,3.1C18.5,2.6 17.2,1.6 16.1,0.5C15.1,-0.6 14.3,-2.2 13.8,-3.5C13.3,-4.7 12.8,-6.1 13.0,-7.2C13.1,-8.3 14.1,-9.0 14.7,-10.0C15.3,-10.9 16.4,-11.9 16.6,-13.0C16.8,-14.1 16.1,-15.4 15.8,-16.5C15.4,-17.7 14.6,-18.5 14.4,-19.8C14.2,-21.0 14.0,-22.7 14.5,-24.0Z" fill="#004a00"/></g></g></g>
<g transform="translate(894.8,2656.8)"><g clip-path="url(#cr)"><rect x="-30" y="-30" width="60" height="60" fill="#000042"/><g stroke="#d0d0d0" stroke-width="11"><line x1="-45" y1="0" x2="45" y2="0" transform="rotate(33)"/><line x1="-45" y1="0" x2="45" y2="0" transform="rotate(-33)"/></g><g stroke="#c00000" stroke-width="3.8"><line x1="-45" y1="1.8" x2="0" y2="1.8" transform="rotate(33)"/><line x1="0" y1="-1.8" x2="45" y2="-1.8" transform="rotate(33)"/><line x1="-45" y1="-1.8" x2="0" y2="-1.8" transform="rotate(-33)"/><line x1="0" y1="1.8" x2="45" y2="1.8" transform="rotate(-33)"/></g><rect x="-30" y="-8" width="60" height="16" fill="#d0d0d0"/><rect x="-7.2" y="-30" width="14.4" height="60" fill="#d0d0d0"/><rect x="-30" y="-5.7" width="60" height="11.4" fill="#c00000"/><rect x="-4.9" y="-30" width="9.8" height="60" fill="#c00000"/></g></g>
<g transform="translate(894.8,2746.8)"><g filter="url(#bl)"><g clip-path="url(#cr)"><rect x="-30" y="-30" width="60" height="60" fill="#00003e"/><path d="M-29.6,-4.9C-31.4,-7.2 -33.6,-13.8 -32.4,-18.4C-31.1,-23.0 -27.7,-30.0 -22.1,-32.4C-16.5,-34.7 -3.1,-33.4 1.2,-32.4C5.5,-31.4 2.7,-27.9 3.5,-26.3C4.4,-24.7 6.3,-23.8 6.3,-22.6C6.4,-21.3 5.0,-20.0 4.0,-18.8C3.0,-17.7 1.8,-16.4 0.3,-15.6C-1.3,-14.8 -3.4,-14.5 -5.3,-14.0C-7.3,-13.5 -9.9,-13.0 -11.4,-12.3C-12.8,-11.6 -13.8,-10.8 -14.1,-10.0C-14.4,-9.2 -13.9,-7.9 -13.2,-7.4C-12.6,-6.8 -11.3,-6.7 -10.0,-6.8C-8.7,-6.9 -7.0,-8.1 -5.3,-8.1C-3.6,-8.2 -1.4,-8.0 0.3,-7.2C2.0,-6.3 3.4,-4.2 4.9,-3.0C6.5,-1.7 8.7,-0.7 9.6,0.3C10.5,1.3 10.9,2.0 10.5,3.1C10.2,4.2 8.5,5.6 7.6,6.8C6.6,8.1 5.7,9.2 4.9,10.5C4.2,11.9 3.8,13.3 3.1,14.7C2.3,16.1 1.4,17.8 0.5,18.9C-0.4,20.0 -1.5,21.4 -2.3,21.4C-3.2,21.4 -4.0,20.3 -4.8,18.9C-5.6,17.6 -6.3,15.2 -7.2,13.3C-8.1,11.5 -9.1,9.5 -10.0,7.7C-10.9,6.0 -11.7,4.6 -12.8,3.1C-13.9,1.6 -15.1,-0.2 -16.5,-1.4C-17.9,-2.6 -19.0,-3.6 -21.2,-4.2C-23.4,-4.8 -27.7,-2.5 -29.6,-4.9ZM14.5,-24.0C14.9,-25.3 14.6,-28.0 17.1,-27.7C19.5,-27.4 26.7,-25.5 29.2,-22.1C31.7,-18.7 31.9,-11.2 32.0,-7.2C32.1,-3.1 30.9,0.3 29.7,2.1C28.4,4.0 26.2,3.5 24.5,3.6C22.9,3.8 21.3,3.6 19.9,3.1C18.5,2.6 17.2,1.6 16.1,0.5C15.1,-0.6 14.3,-2.2 13.8,-3.5C13.3,-4.7 12.8,-6.1 13.0,-7.2C13.1,-8.3 14.1,-9.0 14.7,-10.0C15.3,-10.9 16.4,-11.9 16.6,-13.0C16.8,-14.1 16.1,-15.4 15.8,-16.5C15.4,-17.7 14.6,-18.5 14.4,-19.8C14.2,-21.0 14.0,-22.7 14.5,-24.0Z" fill="#004a00"/></g></g></g>
<g transform="translate(909,2926.8)"><g filter="url(#bl)"><g clip-path="url(#cr)"><rect x="-30" y="-30" width="60" height="60" fill="#00003e"/><path d="M-29.6,-4.9C-31.4,-7.2 -33.6,-13.8 -32.4,-18.4C-31.1,-23.0 -27.7,-30.0 -22.1,-32.4C-16.5,-34.7 -3.1,-33.4 1.2,-32.4C5.5,-31.4 2.7,-27.9 3.5,-26.3C4.4,-24.7 6.3,-23.8 6.3,-22.6C6.4,-21.3 5.0,-20.0 4.0,-18.8C3.0,-17.7 1.8,-16.4 0.3,-15.6C-1.3,-14.8 -3.4,-14.5 -5.3,-14.0C-7.3,-13.5 -9.9,-13.0 -11.4,-12.3C-12.8,-11.6 -13.8,-10.8 -14.1,-10.0C-14.4,-9.2 -13.9,-7.9 -13.2,-7.4C-12.6,-6.8 -11.3,-6.7 -10.0,-6.8C-8.7,-6.9 -7.0,-8.1 -5.3,-8.1C-3.6,-8.2 -1.4,-8.0 0.3,-7.2C2.0,-6.3 3.4,-4.2 4.9,-3.0C6.5,-1.7 8.7,-0.7 9.6,0.3C10.5,1.3 10.9,2.0 10.5,3.1C10.2,4.2 8.5,5.6 7.6,6.8C6.6,8.1 5.7,9.2 4.9,10.5C4.2,11.9 3.8,13.3 3.1,14.7C2.3,16.1 1.4,17.8 0.5,18.9C-0.4,20.0 -1.5,21.4 -2.3,21.4C-3.2,21.4 -4.0,20.3 -4.8,18.9C-5.6,17.6 -6.3,15.2 -7.2,13.3C-8.1,11.5 -9.1,9.5 -10.0,7.7C-10.9,6.0 -11.7,4.6 -12.8,3.1C-13.9,1.6 -15.1,-0.2 -16.5,-1.4C-17.9,-2.6 -19.0,-3.6 -21.2,-4.2C-23.4,-4.8 -27.7,-2.5 -29.6,-4.9ZM14.5,-24.0C14.9,-25.3 14.6,-28.0 17.1,-27.7C19.5,-27.4 26.7,-25.5 29.2,-22.1C31.7,-18.7 31.9,-11.2 32.0,-7.2C32.1,-3.1 30.9,0.3 29.7,2.1C28.4,4.0 26.2,3.5 24.5,3.6C22.9,3.8 21.3,3.6 19.9,3.1C18.5,2.6 17.2,1.6 16.1,0.5C15.1,-0.6 14.3,-2.2 13.8,-3.5C13.3,-4.7 12.8,-6.1 13.0,-7.2C13.1,-8.3 14.1,-9.0 14.7,-10.0C15.3,-10.9 16.4,-11.9 16.6,-13.0C16.8,-14.1 16.1,-15.4 15.8,-16.5C15.4,-17.7 14.6,-18.5 14.4,-19.8C14.2,-21.0 14.0,-22.7 14.5,-24.0Z" fill="#004a00"/></g></g></g>
<g transform="translate(894.8,3016.8)"><g clip-path="url(#cr)"><rect x="-30" y="-30" width="60" height="60" fill="#cccccc"/><rect x="-30" y="-30" width="16" height="60" fill="#0a5000"/><rect x="14" y="-30" width="16" height="60" fill="#a83200"/></g></g>
<g transform="translate(894.8,3106.8)"><g clip-path="url(#cr)"><rect x="-30" y="-30" width="60" height="60" fill="#cccccc"/><rect x="-30" y="-30" width="16" height="60" fill="#257200"/><rect x="14" y="-30" width="16" height="60" fill="#b8580a"/></g></g>
<g font-family="'Liberation Sans',sans-serif" font-weight="700" font-size="31" text-anchor="middle" fill="#000" stroke="#000" stroke-width="0.35">
<text x="293" y="1246.5" textLength="165.5" lengthAdjust="spacingAndGlyphs">R-BY120564</text>
<text x="276.6" y="1606.5" textLength="164" lengthAdjust="spacingAndGlyphs">R-FT149458</text>
<text x="353" y="1786.5" textLength="164" lengthAdjust="spacingAndGlyphs">R-FT150135</text>
<text x="589.4" y="2056.5" textLength="147.6" lengthAdjust="spacingAndGlyphs">R-FTB1672</text>
<text x="577.4" y="2326.5" textLength="164.6" lengthAdjust="spacingAndGlyphs">R-FT148932</text>
<text x="274.4" y="2776.5" textLength="165.4" lengthAdjust="spacingAndGlyphs">R-FTD48592</text>
</g>
</g></g>
<g fill="#8e8e92">
<rect x="22.1" y="73" width="915.8" height="2.8"/>
<rect x="20.1" y="1033.1" width="915.9" height="2.8"/>
</g>
<text class="cal" y="125.4" fill="#000" stroke="#000" stroke-width="1.1" stroke-linejoin="round"><tspan x="420.6" font-size="45.3" textLength="165.5" lengthAdjust="spacingAndGlyphs">R-BY</tspan><tspan x="587.6" font-size="31.2" stroke-width="2" textLength="57.5" lengthAdjust="spacingAndGlyphs">20</tspan><tspan x="646.7" dy="5.2" font-size="38.4" stroke-width="1.6" textLength="59" lengthAdjust="spacingAndGlyphs">93</tspan><tspan x="707.4" dy="-5.2" font-size="45.3" textLength="32.5" lengthAdjust="spacingAndGlyphs">6</tspan></text>
<rect x="20.2" y="3197.8" width="90.6" height="83.7" fill="url(#hp)"/>
<rect x="110.4" y="3197.8" width="404.9" height="83.7" fill="url(#gma)"/>
<rect x="514.9" y="3197.8" width="115.6" height="83.7" fill="url(#hb)"/>
<rect x="630.1" y="3197.8" width="302.9" height="83.7" fill="url(#gmo)"/>
<g class="ui" font-size="36.3" fill="#ebe8f0" stroke="#ebe8f0" stroke-width="0.9">
<text x="210.4" y="3251.6" textLength="198.6" lengthAdjust="spacingAndGlyphs">Middle Ages</text>
<text x="717.6" y="3251.6" textLength="120.8" lengthAdjust="spacingAndGlyphs">Modern</text></g>
<rect x="797" y="3293.5" width="160.8" height="3" fill="#555"/>
<g class="cal" font-size="28.6" fill="#000" stroke="#000" stroke-width="1" stroke-linejoin="round">
<text x="976" y="247.6" textLength="497.3" lengthAdjust="spacingAndGlyphs">Halls <tspan dx="5">(father James Kelly)</tspan></text>
<text x="976" y="322.3" textLength="152" lengthAdjust="spacingAndGlyphs">O&#39;Kelley</text>
<text x="981" y="503" textLength="159.6" lengthAdjust="spacingAndGlyphs">Connolly</text>
<text x="986.7" y="684" textLength="159.1" lengthAdjust="spacingAndGlyphs">Connolly</text>
<text x="976" y="873.5" textLength="169.8" lengthAdjust="spacingAndGlyphs">Kerrigan</text>
<text x="976" y="961" textLength="139" lengthAdjust="spacingAndGlyphs">Kearns</text>
<text x="985.3" y="1136" textLength="108.2" lengthAdjust="spacingAndGlyphs">Hicks</text>
<text x="985.3" y="1225.6" textLength="122.7" lengthAdjust="spacingAndGlyphs">Conley</text>
<text x="985.3" y="1415.5" textLength="198.7" lengthAdjust="spacingAndGlyphs">McCaffrey</text>
<text x="986.7" y="1499" textLength="118.3" lengthAdjust="spacingAndGlyphs">Kenny</text>
<text x="991.3" y="1589" textLength="126" lengthAdjust="spacingAndGlyphs">Reevie</text>
<text x="997.4" y="1771" textLength="174.5" lengthAdjust="spacingAndGlyphs">Gaffaney</text>
<text x="992.7" y="1947.7" textLength="480.6" lengthAdjust="spacingAndGlyphs">Dolan (Adopted Surname)</text>
<text x="1001" y="2043.4" textLength="133" lengthAdjust="spacingAndGlyphs">Hidden</text>
<text x="1003.5" y="2219.3" textLength="133.9" lengthAdjust="spacingAndGlyphs">Malone</text>
<text x="1004" y="2309.5" textLength="153.9" lengthAdjust="spacingAndGlyphs">McGloin</text>
<text x="1004" y="2489" textLength="167.9" lengthAdjust="spacingAndGlyphs">McGuinn</text>
<text x="1006" y="2575" textLength="156.5" lengthAdjust="spacingAndGlyphs">Cravens</text>
<text x="1011" y="2670" textLength="160.9" lengthAdjust="spacingAndGlyphs">Stewart</text>
<text x="1004" y="2763.5" textLength="222" lengthAdjust="spacingAndGlyphs">Rasmussen</text>
<text x="1019.3" y="2943.6" textLength="153.1" lengthAdjust="spacingAndGlyphs">Winters</text>
<text x="1026.8" y="3032.3" textLength="161.9" lengthAdjust="spacingAndGlyphs">Mulligan</text>
<text x="1027.2" y="3119" textLength="275.8" lengthAdjust="spacingAndGlyphs">Clinton-Burns</text>
</g>
</svg></body></html>
